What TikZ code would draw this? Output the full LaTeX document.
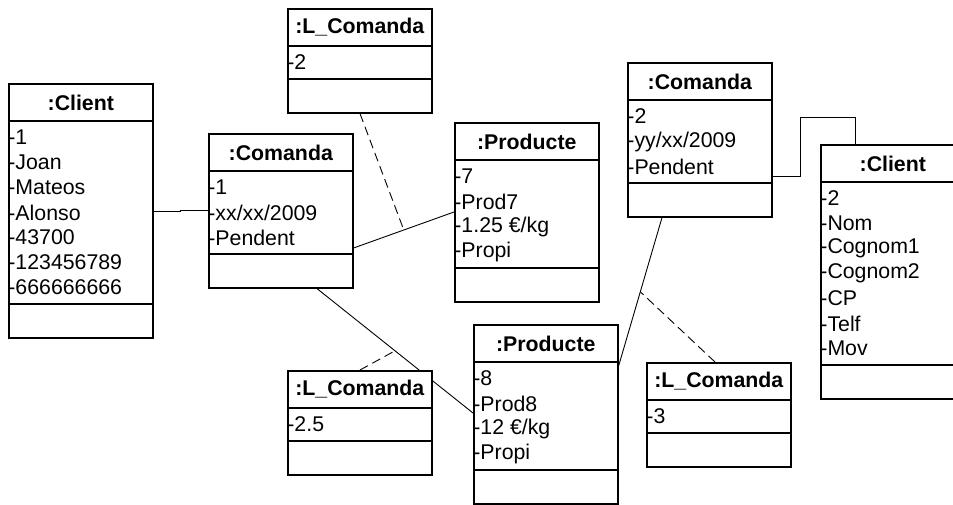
\documentclass[tikz,border=0pt]{standalone}
\usepackage{fontspec}
\setmainfont{Liberation Sans}
\usetikzlibrary{calc,backgrounds}

\newcommand\objfont{\fontsize{21.3}{25}\selectfont}

\tikzset{
  objframe/.style={draw=black, line width=1.6pt, fill=white, rectangle,
    inner sep=0pt, anchor=north west, minimum width=144pt},
  objline/.style={line width=1.6pt},
  objtitle/.style={font=\objfont\bfseries, inner sep=0pt, anchor=center},
  objattr/.style={font=\objfont, inner sep=0pt, anchor=west},
  link/.style={line width=0.9pt},
  assoclink/.style={line width=0.9pt, dash pattern=on 9pt off 5pt},
}

% object box: name, top-left corner, title, number of attribute rows, attributes
\newcommand\objbox[5]{%
  \pgfmathsetmacro\attrh{25*#4+8}%
  \pgfmathsetmacro\toth{38+\attrh+33}%
  \node[objframe, minimum height=\toth pt] (#1) at #2 {};
  \draw[objline] ([yshift=-38pt]#1.north west) -- ([yshift=-38pt]#1.north east);
  \draw[objline] ([yshift={-(38+\attrh)*1pt}]#1.north west) -- ([yshift={-(38+\attrh)*1pt}]#1.north east);
  \node[objtitle] (#1-t) at ([yshift=-19.5pt]#1.north) {#3};
  \foreach \t [count=\i] in {#5} {
    \node[objattr] (#1-a\i) at ([yshift={-(54.5+25*(\i-1))*1pt}, xshift=0.2pt]#1.north west) {\t};
  }
}

\begin{document}
\begin{tikzpicture}[x=1pt, y=-1pt]
\useasboundingbox (0,0) rectangle (953,505);
\clip (0,0) rectangle (953,505);

\objbox{cliA}{(8,83)}{:Client}{7}{-1,-Joan,-Mateos,-Alonso,-43700,-123456789,-666666666}
\objbox{comA}{(208,133)}{:Comanda}{3}{-1,-xx/xx/2009,-Pendent}
\objbox{lcT}{(287,8)}{:L\_Comanda}{1}{-2}
\objbox{prT}{(454,122)}{:Producte}{4}{-7,-Prod7,-1.25 €/kg,-Propi}
\objbox{comB}{(627,62)}{:Comanda}{3}{-2,-yy/xx/2009,-Pendent}
\objbox{cliB}{(820,144)}{:Client}{7}{-2,-Nom,-Cognom1,-Cognom2,-CP,-Telf,-Mov}
\objbox{prB}{(473,324)}{:Producte}{4}{-8,-Prod8,-12 €/kg,-Propi}
\objbox{lcL}{(287,370)}{:L\_Comanda}{1}{-2.5}
\objbox{lcR}{(646,362)}{:L\_Comanda}{1}{-3}

% connector end points on the box borders
\coordinate (cliA-e) at ([yshift=-128pt]cliA.north east);
\coordinate (comA-w) at ([yshift=-77pt]comA.north west);
\coordinate (comA-e) at ([yshift=-115pt]comA.north east);
\coordinate (prT-w)  at ([yshift=-90pt]prT.north west);
\coordinate (comA-s) at ([xshift=109pt]comA.south west);
\coordinate (prB-w)  at ([yshift=-89pt]prB.north west);
\coordinate (comB-e) at ([yshift=-114pt]comB.north east);
\coordinate (cliB-n) at ([xshift=35pt]cliB.north west);
\coordinate (comB-s) at ([xshift=35pt]comB.south west);
\coordinate (prB-e)  at ([yshift=-42pt]prB.north east);
\coordinate (lcT-s)  at ([xshift=73pt]lcT.south west);
\coordinate (lcL-n)  at ([xshift=73pt]lcL.north west);
\coordinate (lcR-n)  at ([xshift=69pt]lcR.north west);

\begin{scope}[on background layer]
  \draw[link] (cliA-e) -- (180,211) -- (180,210) -- (comA-w);
  \draw[link] (comA-e) -- (prT-w);
  \draw[link] (comA-s) -- (prB-w);
  \draw[link] (comB-e) -- (800,176) -- (800,117) -- (cliB-n |- 0,117) -- (cliB-n);
  \draw[link] (comB-s) -- (prB-e);
  \draw[assoclink] (lcT-s) -- ($(comA-e)!0.5!(prT-w)$);
  \draw[assoclink] (lcL-n) -- ($(comA-s)!0.5!(prB-w)$);
  \draw[assoclink] (lcR-n) -- ($(comB-s)!0.5!(prB-e)$);
\end{scope}
\end{tikzpicture}
\end{document}
